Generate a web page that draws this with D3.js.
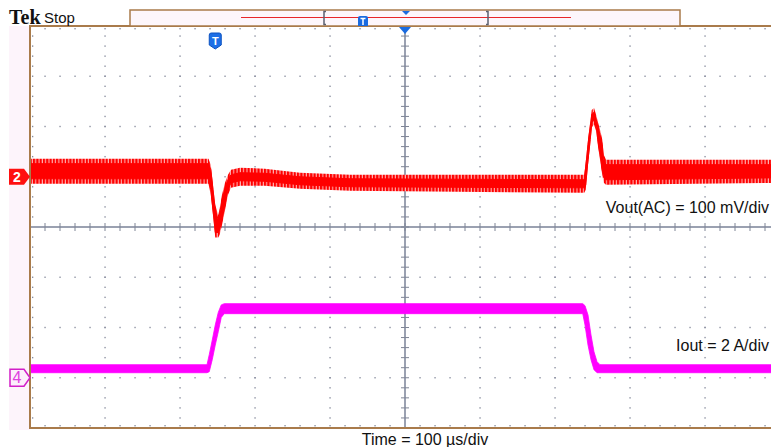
<!DOCTYPE html>
<html>
<head>
<meta charset="utf-8">
<script src="https://cdn.jsdelivr.net/npm/d3@7"></script>
<style>
  body { margin: 0; background: #fff; }
  svg { font-family: "Liberation Sans", Arial, sans-serif; }
</style>
</head>
<body>
<div id="scope"></div>
<script>
// envelope of each trace (min / max of the noise band)
// time in us, measured from the left edge of the screen
var ch2Time = [0, 238, 241, 244, 247, 251, 253, 256, 260, 264, 268, 280, 313, 360, 427, 739, 741, 744, 747, 749, 752, 755, 757, 760, 763, 765, 768, 1000];
var ch2Max  = [36, 36, 24, -16, -56, -76, -62, -36, -12, 4, 14, 18, 16, 8, 4, 4, 30, 74, 110, 133, 137, 123, 110, 94, 74, 44, 34, 34];     // mV
var ch2Min  = [-14, -14, -36, -76, -121, -121, -115, -96, -66, -36, -22, -18, -18, -24, -28, -32, -26, 24, 64, 98, 104, 90, 64, 34, 4, -12, -16, -12];

var ch4Time = [0, 236, 239, 243, 247, 251, 255, 259, 737, 740, 744, 748, 752, 756, 760, 1000];
var ch4Max  = [0.52, 0.52, 0.92, 1.5, 2.1, 2.6, 2.9, 2.95, 2.95, 2.87, 2.5, 1.7, 1.03, 0.64, 0.52, 0.52];   // A
var ch4Min  = [0.2, 0.2, 0.24, 0.72, 1.3, 1.83, 2.4, 2.55, 2.55, 2.1, 1.3, 0.72, 0.32, 0.2, 0.2, 0.2];

var ch2Scale = 100;   // mV/div
var ch4Scale = 2;     // A/div
var ch2Pos = 1;       // divisions above centre
var ch4Pos = -3;
var triggerTime = 247;
var labels = ["Vout(AC) = 100 mV/div", "Iout = 2 A/div", "Time = 100 \u00b5s/div"];

var width = 771, height = 447;
var plot = {left: 30, right: 780, top: 26, bottom: 428};

var svg = d3.select("#scope")
  .append("svg")
  .attr("width", width)
  .attr("height", height);

var x = d3.scaleLinear().domain([0, 1000]).range([plot.left, plot.right]);
var y = d3.scaleLinear().domain([-4, 4]).range([plot.bottom, plot.top]);

// striped fill used for the ripple edges of ch2
var defs = svg.append("defs");
var pat = defs.append("pattern")
  .attr("id", "ripple").attr("patternUnits", "userSpaceOnUse")
  .attr("width", 3.3).attr("height", 20);
pat.append("rect").attr("width", 3.3).attr("height", 20).attr("fill", "#ffb0b0");
pat.append("rect").attr("width", 2.2).attr("height", 20).attr("fill", "#ff0000");

// left strip behind channel markers
svg.append("rect")
  .attr("x", 9).attr("y", plot.top)
  .attr("width", plot.left - 9).attr("height", plot.bottom - plot.top + 2)
  .attr("fill", "#fdf4fb");

// graticule dots
var dotColor = "#868b9c";
var grid = svg.append("g");
var minorX = d3.range(0, 1001, 20);
var minorY = d3.range(-4, 4.001, 0.2);

d3.range(100, 1000, 100).forEach(function(t) {
  if (t == 500) return;
  grid.selectAll(null).data(minorY).enter().append("rect")
    .attr("x", x(t) - 0.6).attr("y", function(d) { return y(d) - 0.7; })
    .attr("width", 1.3).attr("height", 1.4).attr("fill", dotColor);
});
d3.range(-3, 4, 1).forEach(function(v) {
  if (v == 0) return;
  grid.selectAll(null).data(minorX).enter().append("rect")
    .attr("x", function(d) { return x(d) - 0.6; }).attr("y", y(v) - 0.7)
    .attr("width", 1.3).attr("height", 1.4).attr("fill", dotColor);
});
// edge ticks
grid.selectAll(null).data(minorX).enter().append("rect")
  .attr("x", function(d) { return x(d) - 0.6; }).attr("y", plot.top + 2)
  .attr("width", 1.3).attr("height", 1.4).attr("fill", dotColor);
grid.selectAll(null).data(minorX).enter().append("rect")
  .attr("x", function(d) { return x(d) - 0.6; }).attr("y", plot.bottom - 3)
  .attr("width", 1.3).attr("height", 1.4).attr("fill", dotColor);
grid.selectAll(null).data(minorY).enter().append("rect")
  .attr("x", plot.left + 2).attr("y", function(d) { return y(d) - 0.7; })
  .attr("width", 1.3).attr("height", 1.4).attr("fill", dotColor);

// centre cross with ticks
var axisColor = "#9ba1b1";
svg.append("line")
  .attr("x1", x(500)).attr("x2", x(500)).attr("y1", plot.top).attr("y2", plot.bottom)
  .attr("stroke", axisColor).attr("stroke-width", 2);
svg.append("line")
  .attr("x1", plot.left).attr("x2", plot.right).attr("y1", y(0)).attr("y2", y(0))
  .attr("stroke", axisColor).attr("stroke-width", 2);
svg.append("g").selectAll("line").data(minorX).enter().append("line")
  .attr("x1", function(d) { return x(d); }).attr("x2", function(d) { return x(d); })
  .attr("y1", y(0) - 4).attr("y2", y(0) + 4)
  .attr("stroke", "#7f8596").attr("stroke-width", 1);
svg.append("g").selectAll("line").data(minorY).enter().append("line")
  .attr("x1", x(500) - 4).attr("x2", x(500) + 4)
  .attr("y1", function(d) { return y(d); }).attr("y2", function(d) { return y(d); })
  .attr("stroke", "#7f8596").attr("stroke-width", 1);

// traces
var ch2Area = d3.area()
  .x(function(d, i) { return x(ch2Time[i]); })
  .y0(function(d, i) { return y(ch2Pos + ch2Min[i] / ch2Scale); })
  .y1(function(d, i) { return y(ch2Pos + ch2Max[i] / ch2Scale); });
// solid core of the band, a few pixels inside the envelope
function inset(i) {
  var lo = y(ch2Pos + ch2Min[i] / ch2Scale), hi = y(ch2Pos + ch2Max[i] / ch2Scale);
  return Math.max(0, Math.min(5, (lo - hi) / 2 - 4));
}
var ch2Core = d3.area()
  .x(function(d, i) { return x(ch2Time[i]); })
  .y0(function(d, i) { return y(ch2Pos + ch2Min[i] / ch2Scale) - inset(i); })
  .y1(function(d, i) { return y(ch2Pos + ch2Max[i] / ch2Scale) + inset(i); });
var ch4Area = d3.area()
  .x(function(d, i) { return x(ch4Time[i]); })
  .y0(function(d, i) { return y(ch4Pos + ch4Min[i] / ch4Scale); })
  .y1(function(d, i) { return y(ch4Pos + ch4Max[i] / ch4Scale); });

svg.append("path").datum(ch2Time).attr("d", ch2Area)
  .attr("fill", "url(#ripple)");
svg.append("path").datum(ch2Time).attr("d", ch2Core)
  .attr("fill", "#ff0000").attr("stroke", "#ff0000").attr("stroke-width", 1);
svg.append("path").datum(ch4Time).attr("d", ch4Area)
  .attr("fill", "#ff00ff").attr("stroke", "#ff00ff").attr("stroke-width", 0.8);

// border
var border = "#a97b4b";
svg.append("path")
  .attr("d", "M" + plot.right + "," + plot.top + "H" + plot.left + "V" + plot.bottom + "H" + plot.right)
  .attr("fill", "none").attr("stroke", border).attr("stroke-width", 2);

// record view bar
svg.append("rect")
  .attr("x", 130).attr("y", 10).attr("width", 550).attr("height", 16)
  .attr("fill", "#fdf6fb").attr("stroke", border).attr("stroke-width", 1.5);
svg.append("line")
  .attr("x1", 241).attr("x2", 571).attr("y1", 17.5).attr("y2", 17.5)
  .attr("stroke", "#e8262a").attr("stroke-width", 1.2);
svg.append("path").attr("d", "M326,11.5h-2v13h2")
  .attr("fill", "none").attr("stroke", "#5b6070").attr("stroke-width", 1.5);
svg.append("path").attr("d", "M486,11.5h2v13h-2")
  .attr("fill", "none").attr("stroke", "#5b6070").attr("stroke-width", 1.5);
svg.append("path").attr("d", "M358,26V18q0,-2 2,-2h6q2,0 2,2V26z")
  .attr("fill", "#1a6be0");
svg.append("path").attr("d", "M360.5,18.5h5M363,18.5V25")
  .attr("stroke", "#fff").attr("stroke-width", 1.5);
svg.append("path").attr("d", "M402,11h8l-4,4z").attr("fill", "#1a6be0");

// trigger position arrow at top centre
svg.append("path")
  .attr("d", "M" + (x(500) - 6) + "," + (plot.top + 1) + "h12l-6,7z")
  .attr("fill", "#1a6be0");

// trigger marker
var tx = x(triggerTime);
svg.append("path")
  .attr("d", "M" + (tx - 6) + ",35q0,-2 2,-2h8q2,0 2,2v10l-6,4l-6,-4z")
  .attr("fill", "#1e6fe6").attr("stroke", "#0d53c0").attr("stroke-width", 1);
svg.append("text")
  .attr("x", tx).attr("y", 45)
  .attr("text-anchor", "middle").attr("font-size", "11px").attr("font-weight", "bold")
  .attr("fill", "#fff").text("T");

// channel markers
var m2 = y(ch2Pos), m4 = y(ch4Pos);
svg.append("path")
  .attr("d", "M9," + (m2 - 8) + "h15l6,8l-6,8h-15z")
  .attr("fill", "#ff1010");
svg.append("text")
  .attr("x", 17).attr("y", m2 + 5)
  .attr("text-anchor", "middle").attr("font-size", "14px").attr("font-weight", "bold")
  .attr("fill", "#fff").text("2");
svg.append("path")
  .attr("d", "M10," + (m4 - 8.5) + "h14l6,8.5l-6,8.5h-14z")
  .attr("fill", "#fdeefc").attr("stroke", "#d21fc8").attr("stroke-width", 1.5);
svg.append("text")
  .attr("x", 17).attr("y", m4 + 5.5)
  .attr("text-anchor", "middle").attr("font-size", "16px")
  .attr("fill", "#e040e0").text("4");

// header
svg.append("text")
  .attr("x", 9).attr("y", 24)
  .style("font-family", "'Liberation Serif', 'DejaVu Serif', serif")
  .attr("font-size", "20px").attr("font-weight", "bold")
  .attr("fill", "#111").text("Tek");
svg.append("text")
  .attr("x", 44).attr("y", 23)
  .attr("font-size", "15px").attr("fill", "#111").text("Stop");

// scale labels
svg.append("text")
  .attr("x", 769).attr("y", 213)
  .attr("text-anchor", "end").attr("font-size", "16px")
  .attr("fill", "#111").text(labels[0]);
svg.append("text")
  .attr("x", 769).attr("y", 351)
  .attr("text-anchor", "end").attr("font-size", "16px")
  .attr("fill", "#111").text(labels[1]);
svg.append("text")
  .attr("x", 425).attr("y", 445)
  .attr("text-anchor", "middle").attr("font-size", "16px")
  .attr("fill", "#111").text(labels[2]);
</script>
</body>
</html>
